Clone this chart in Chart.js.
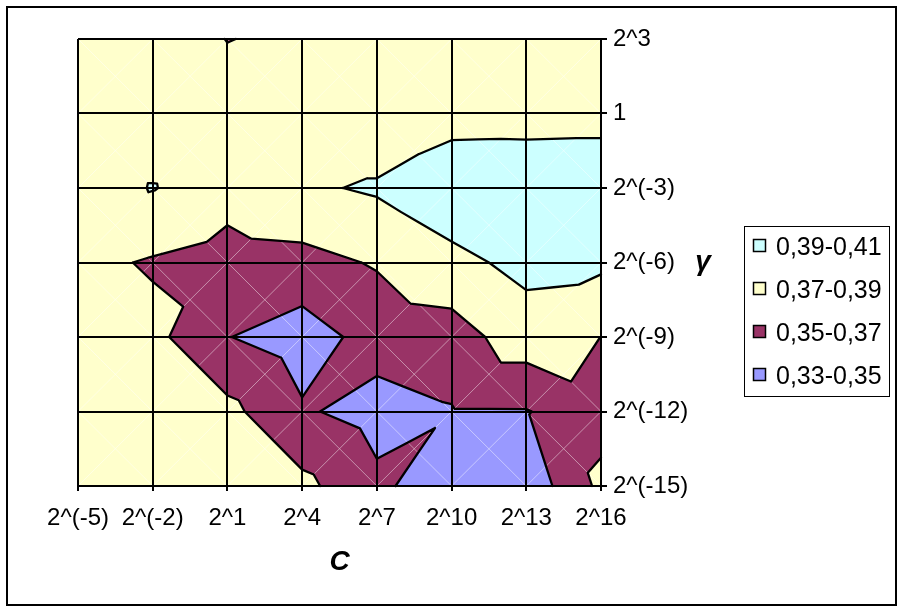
<!DOCTYPE html>
<html>
<head>
<meta charset="utf-8">
<title>Contour C / gamma</title>
<script src="https://cdn.jsdelivr.net/npm/chart.js@4.4.1/dist/chart.umd.min.js"></script>
<style>
    html, body { margin: 0; padding: 0; background: #fff; }
    #wrap { position: relative; width: 902px; height: 612px; }
</style>
</head>
<body>
<div id="wrap"><canvas id="contour"></canvas></div>
<script>
// grid of the search, as log2 exponents, and the labels printed for them
var cExp = [-5, -2, 1, 4, 7, 10, 13, 16];
var cLabels = ['2^(-5)', '2^(-2)', '2^1', '2^4', '2^7', '2^10', '2^13', '2^16'];
var gammaExp = [3, 0, -3, -6, -9, -12, -15];
var gammaLabels = ['2^3', '1', '2^(-3)', '2^(-6)', '2^(-9)', '2^(-12)', '2^(-15)'];

// one row of results per gamma (top to bottom), left to right along C
var rowG3   = [0.378, 0.378, 0.3697, 0.3724, 0.377, 0.379, 0.380, 0.381];
var rowG0   = [0.377, 0.377, 0.3757, 0.3733, 0.3733, 0.3824, 0.383, 0.3836];
var rowGm3  = [0.3795, 0.3909, 0.378, 0.387, 0.3925, 0.4036, 0.403, 0.403];
var rowGm6  = [0.3752, 0.3681, 0.362, 0.3638, 0.3716, 0.3847, 0.3953, 0.3938];
var rowGm9  = [0.378, 0.3755, 0.3506, 0.3402, 0.358, 0.361, 0.381, 0.3699];
var rowGm12 = [0.379, 0.378, 0.3753, 0.3523, 0.3427, 0.3488, 0.349, 0.3626];
var rowGm15 = [0.380, 0.379, 0.378, 0.375, 0.3542, 0.3374, 0.3368, 0.3745];

// contour bands, bottom to top
var levels = [0.33, 0.35, 0.37, 0.39, 0.41];
var bandLabels = ['0,33-0,35', '0,35-0,37', '0,37-0,39', '0,39-0,41'];
var bandColors = ['#9999FF', '#993366', '#FFFFCC', '#CCFFFF'];

(function () {
    'use strict';

    var FONT = '"Liberation Sans", Arial, sans-serif';
    var rows = [rowG3, rowG0, rowGm3, rowGm6, rowGm9, rowGm12, rowGm15];

    // ------------------------------------------------------------------
    // geometry helpers
    // ------------------------------------------------------------------
    function pt(chart, ci, gi) {
        return {
            x: chart.scales.x.getPixelForValue(cExp[ci]),
            y: chart.scales.y.getPixelForValue(gammaExp[gi]),
            v: rows[gi][ci]
        };
    }

    /** Keep the part of a polygon above (or below) a level. */
    function clipPoly(poly, level, keepAbove) {
        var out = [];
        for (var i = 0; i < poly.length; i++) {
            var a = poly[i], b = poly[(i + 1) % poly.length];
            var ina = keepAbove ? a.v >= level : a.v <= level;
            var inb = keepAbove ? b.v >= level : b.v <= level;
            if (ina) out.push(a);
            if (ina !== inb) {
                var t = (level - a.v) / (b.v - a.v);
                out.push({ x: a.x + t * (b.x - a.x), y: a.y + t * (b.y - a.y), v: level });
            }
        }
        return out;
    }

    /** Each cell is split in four triangles round its centre. */
    function cellTriangles(chart) {
        var tris = [];
        for (var gi = 0; gi < gammaExp.length - 1; gi++) {
            for (var ci = 0; ci < cExp.length - 1; ci++) {
                var tl = pt(chart, ci, gi), tr = pt(chart, ci + 1, gi);
                var bl = pt(chart, ci, gi + 1), br = pt(chart, ci + 1, gi + 1);
                var cv = Math.max((tl.v + br.v) / 2, (tr.v + bl.v) / 2);
                var c = { x: (tl.x + br.x) / 2, y: (tl.y + br.y) / 2, v: cv };
                tris.push([tl, tr, c], [tr, br, c], [br, bl, c], [bl, tl, c]);
            }
        }
        return tris;
    }

    // ------------------------------------------------------------------
    // contour fill + lines, drawn before the grid
    // ------------------------------------------------------------------
    var contourPlugin = {
        id: 'contour',
        beforeDraw: function (chart) {
            var ctx = chart.ctx;
            var tris = cellTriangles(chart);
            ctx.save();

            tris.forEach(function (tri) {
                for (var k = 0; k < bandColors.length; k++) {
                    var poly = clipPoly(tri, levels[k], true);
                    if (poly.length < 3) continue;
                    poly = clipPoly(poly, levels[k + 1], false);
                    if (poly.length < 3) continue;
                    ctx.beginPath();
                    ctx.moveTo(poly[0].x, poly[0].y);
                    for (var p = 1; p < poly.length; p++) ctx.lineTo(poly[p].x, poly[p].y);
                    ctx.closePath();
                    ctx.fillStyle = bandColors[k];
                    ctx.fill();
                }
            });

            // faint seams where the triangles meet (the diagonals)
            ctx.strokeStyle = 'rgba(255,255,255,0.28)';
            ctx.lineWidth = 1;
            ctx.beginPath();
            tris.forEach(function (tri) {
                ctx.moveTo(tri[1].x, tri[1].y);
                ctx.lineTo(tri[2].x, tri[2].y);
            });
            ctx.stroke();

            ctx.strokeStyle = '#000';
            ctx.lineWidth = 2.3;
            ctx.lineCap = 'round';
            ctx.lineJoin = 'round';
            ctx.beginPath();
            tris.forEach(function (tri) {
                levels.forEach(function (lv) {
                    var hits = [];
                    for (var e = 0; e < 3; e++) {
                        var a = tri[e], b = tri[(e + 1) % 3];
                        if ((a.v - lv) * (b.v - lv) < 0) {
                            var t = (lv - a.v) / (b.v - a.v);
                            hits.push({ x: a.x + t * (b.x - a.x), y: a.y + t * (b.y - a.y) });
                        }
                    }
                    if (hits.length === 2) {
                        ctx.moveTo(hits[0].x, hits[0].y);
                        ctx.lineTo(hits[1].x, hits[1].y);
                    }
                });
            });
            ctx.stroke();
            ctx.restore();
        }
    };

    // ------------------------------------------------------------------
    // frame, axis titles and legend
    // ------------------------------------------------------------------
    var framePlugin = {
        id: 'frame',
        afterDraw: function (chart) {
            var ctx = chart.ctx;
            ctx.save();
            ctx.strokeStyle = '#000';
            ctx.lineWidth = 2;
            ctx.strokeRect(7, 7, 889, 598);

            ctx.fillStyle = '#000';
            ctx.font = 'italic bold 28px ' + FONT;
            ctx.textAlign = 'center';
            ctx.textBaseline = 'alphabetic';
            var area = chart.chartArea;
            ctx.fillText('C', (area.left + area.right) / 2, 570);
            ctx.fillText('\u03b3', 703, 270);

            // legend box
            ctx.lineWidth = 1;
            ctx.fillStyle = '#fff';
            ctx.fillRect(744.5, 226.5, 145, 170);
            ctx.strokeRect(744.5, 226.5, 145, 170);
            ctx.font = '25px ' + FONT;
            ctx.textAlign = 'left';
            for (var i = 0; i < bandLabels.length; i++) {
                var k = bandLabels.length - 1 - i;
                var cy = 246.3 + i * 42.8;
                ctx.fillStyle = bandColors[k];
                ctx.fillRect(753.5, Math.round(cy) - 6.5, 12, 12);
                ctx.lineWidth = 1.5;
                ctx.strokeRect(753.5, Math.round(cy) - 6.5, 12, 12);
                ctx.fillStyle = '#000';
                ctx.fillText(bandLabels[k], 776, cy + 9);
            }
            ctx.restore();
        }
    };

    var gridPoints = [];
    rows.forEach(function (row, gi) {
        row.forEach(function (v, ci) {
            gridPoints.push({ x: cExp[ci], y: gammaExp[gi], v: v });
        });
    });

    new Chart(document.getElementById('contour'), {
        type: 'scatter',
        data: { datasets: [{ label: 'grid', data: gridPoints, pointRadius: 0, pointHoverRadius: 0 }] },
        options: {
            responsive: true,
            maintainAspectRatio: false,
            animation: false,
            events: [],
            layout: { padding: { left: 78, top: 39, right: 0, bottom: 0 } },
            plugins: { legend: { display: false }, tooltip: { enabled: false } },
            scales: {
                x: {
                    type: 'linear', position: 'bottom', min: -5, max: 16,
                    afterFit: function (s) { s.height = 126; },
                    grid: { color: '#000', lineWidth: 2, tickLength: 5 },
                    border: { color: '#000', width: 2 },
                    ticks: {
                        stepSize: 3, padding: 13, color: '#000', autoSkip: false,
                        maxRotation: 0, minRotation: 0,
                        font: { family: FONT, size: 24 },
                        callback: function (v) { return cLabels[cExp.indexOf(Math.round(v))]; }
                    }
                },
                y: {
                    type: 'linear', position: 'right', min: -15, max: 3,
                    afterFit: function (s) { s.width = 301; },
                    grid: { color: '#000', lineWidth: 2, tickLength: 6 },
                    border: { color: '#000', width: 2 },
                    ticks: {
                        stepSize: 3, padding: 6, color: '#000', autoSkip: false,
                        font: { family: FONT, size: 24 },
                        callback: function (v) { return gammaLabels[gammaExp.indexOf(Math.round(v))]; }
                    }
                }
            }
        },
        plugins: [contourPlugin, framePlugin]
    });
})();
</script>
</body>
</html>
